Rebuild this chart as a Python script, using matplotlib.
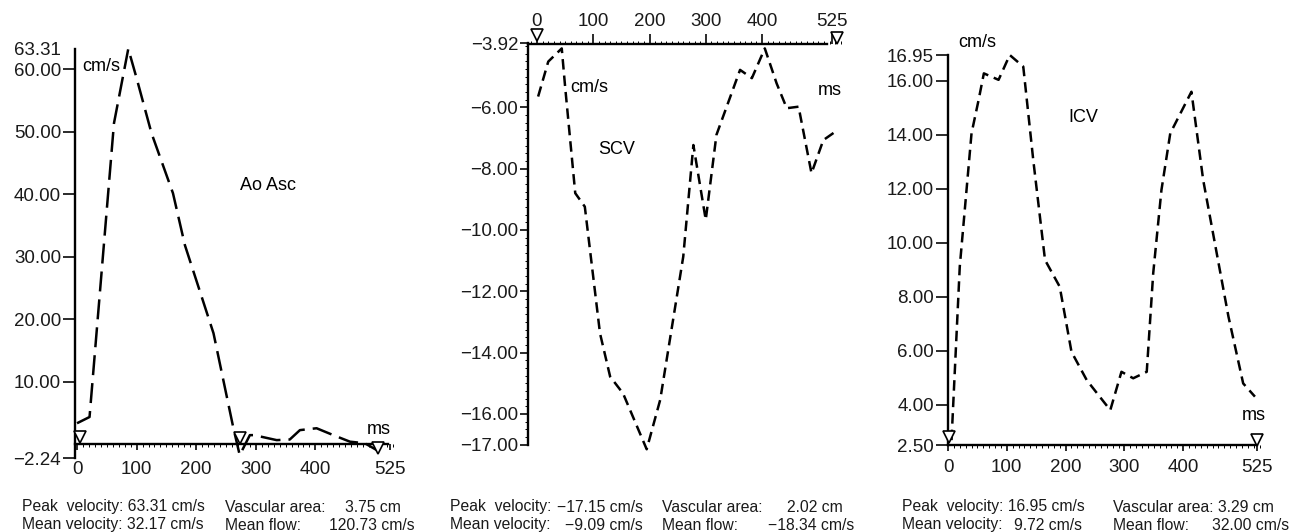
import matplotlib
matplotlib.use('Agg')
import matplotlib.pyplot as plt
from matplotlib.ticker import MultipleLocator

plt.rcParams['font.family'] = ['Liberation Sans', 'DejaVu Sans']

# traces (time in ms, velocity in cm/s)
ao_t = [0, 21, 62, 86, 100, 125, 161, 181, 229, 262, 273, 290, 297, 335, 357, 374, 402, 430, 458, 483, 503, 510]
ao_v = [3.4, 4.4, 51.4, 63.31, 58.6, 49.8, 40.2, 31.9, 17.8, 2.8, -1.7, 1.5, 1.5, 0.7, 0.8, 2.3, 2.6, 1.5, 0.45, 0.2, -0.9, 0.0]

scv_t = [2, 20, 44, 50, 68, 85, 112, 130, 153, 195, 219, 260, 278, 300, 319, 361, 382, 405, 426, 444, 465, 488, 509, 530]
scv_v = [-5.65, -4.51, -4.08, -5.33, -8.80, -9.24, -13.37, -14.78, -15.33, -17.15, -15.54, -10.87, -7.23, -9.67, -6.90,
         -4.78, -5.05, -4.08, -5.22, -6.03, -5.98, -8.15, -7.07, -6.80]

icv_t = [6, 20, 40, 52, 61, 86, 105, 128, 145, 165, 190, 210, 236, 276, 295, 315, 338, 349, 363, 378, 414, 434, 457, 477, 502, 522]
icv_v = [2.69, 9.11, 14.05, 15.28, 16.27, 16.03, 16.95, 16.52, 13.06, 9.36, 8.37, 5.96, 4.91, 3.80, 5.22, 4.98, 5.22,
         8.87, 11.95, 14.05, 15.59, 12.32, 9.61, 7.26, 4.79, 4.30]

# cursor triangles
ao_mark_t = [5, 273, 505]
ao_mark_v = [1.2, 1.0, -0.6]
scv_mark_t = [0, 533]
scv_mark_v = [-3.64, -3.74]
icv_mark_t = [2, 525]
icv_mark_v = [2.81, 2.69]

# axis ticks
x_ticks = [0, 100, 200, 300, 400, 525]
ao_yticks = [-2.24, 10, 20, 30, 40, 50, 60, 63.31]
scv_yticks = [-17, -16, -14, -12, -10, -8, -6, -3.92]
icv_yticks = [2.5, 4, 6, 8, 10, 12, 14, 16, 16.95]

names = ['Ao Asc', 'SCV', 'ICV']

W, H = 1298, 532
fig = plt.figure(figsize=(W / 100, H / 100), dpi=100)


def make_axes(px_left, px_right, py_top, py_bottom):
    return fig.add_axes([px_left / W, 1 - py_bottom / H,
                         (px_right - px_left) / W, (py_bottom - py_top) / H])


def fmt(v):
    return f'{v:.2f}'.replace('-', '\u2212')


def style(ax, yticks):
    ax.set_yticks(yticks)
    ax.set_yticklabels([fmt(v) for v in yticks])
    ax.set_xticks(x_ticks)
    ax.set_xticklabels([str(v) for v in x_ticks])
    ax.xaxis.set_minor_locator(MultipleLocator(10))
    ax.spines['right'].set_visible(False)
    for s in ax.spines.values():
        s.set_linewidth(1.7)
    ax.tick_params(axis='y', labelsize=13.5, length=9, width=1.3, pad=1, colors='#1a1a1a')
    ax.tick_params(axis='x', labelsize=13.5, length=4, width=1.3, colors='#1a1a1a')
    ax.tick_params(axis='x', which='minor', length=2, width=0.7)
    ax.patch.set_visible(False)


mk = dict(marker='v', ms=8, mfc='white', mec='black', mew=1.2, ls='none', clip_on=False, zorder=5)
lw = 1.8

# ---- Ao Asc
ax1 = make_axes(75, 77 + 535 * 0.596, 48.8, 458.5)
ax1.set_xlim(-3.4, 535)
ax1.set_ylim(-2.24, 63.31)
style(ax1, ao_yticks)
ax1.spines['top'].set_visible(False)
ax1.spines['bottom'].set_position(('data', 0))
ax1.spines['bottom'].set_bounds(-3.4, 522)
ax1.spines['left'].set_bounds(-2.24, 63.31)
ax1.yaxis.get_major_ticks()[-1].tick1line.set_visible(False)
ax1.tick_params(axis='x', pad=8)
ax1.plot(ao_t, ao_v, color='black', lw=lw, ls=(0, (8, 3.2)), clip_on=False)
ax1.plot(ao_mark_t, ao_mark_v, **mk)
ax1.text(8, 60.4, 'cm/s', fontsize=13, va='center')
ax1.text(273, 41.4, names[0], fontsize=13, va='center')
ax1.text(487, 2.4, 'ms', fontsize=13, va='center')

# ---- SCV
ax2 = make_axes(528, 537 + 540 * 0.5625, 43.5, 450.8)
ax2.set_xlim(-16, 540)
ax2.set_ylim(-17.2, -3.92)
style(ax2, scv_yticks)
ax2.spines['bottom'].set_visible(False)
ax2.spines['top'].set_bounds(-16, 516)
ax2.spines['left'].set_bounds(-17, -3.92)
ax2.xaxis.tick_top()
ax2.tick_params(axis='x', which='major', length=7, pad=3)
ax2.tick_params(axis='y', length=6)
ax2.yaxis.set_minor_locator(MultipleLocator(0.25))
ax2.tick_params(axis='y', which='minor', length=2, width=0.7)
ax2.plot(scv_t, scv_v, color='black', lw=lw, ls=(0, (4.2, 2.4)), clip_on=False)
ax2.plot(scv_mark_t, scv_mark_v, **mk)
ax2.text(59, -5.37, 'cm/s', fontsize=13, va='center')
ax2.text(108, -7.39, names[1], fontsize=13, va='center')
ax2.text(499, -5.44, 'ms', fontsize=13, va='center')

# ---- ICV
ax3 = make_axes(948, 948 + 535 * 0.588, 55, 446.6)
ax3.set_xlim(0, 535)
ax3.set_ylim(2.45, 16.95)
style(ax3, icv_yticks)
ax3.spines['top'].set_visible(False)
ax3.spines['bottom'].set_position(('data', 2.5))
ax3.spines['bottom'].set_bounds(0, 525)
ax3.spines['left'].set_bounds(2.5, 16.95)
ax3.tick_params(axis='x', pad=6)
ax3.plot(icv_t, icv_v, color='black', lw=lw, ls=(0, (4.2, 2.4)), clip_on=False)
ax3.plot(icv_mark_t, icv_mark_v, **mk)
ax3.text(17, 17.4, 'cm/s', fontsize=13, va='center')
ax3.text(204, 14.65, names[2], fontsize=13, va='center')
ax3.text(499, 3.62, 'ms', fontsize=13, va='center')

# ---- summary lines under each trace
summary_left = [
    ('Peak  velocity: 63.31 cm/s', 'Mean velocity: 32.17 cm/s'),
    ('Peak  velocity:', 'Mean velocity:'),
    ('Peak  velocity: 16.95 cm/s', 'Mean velocity:'),
]
summary_left_vals = [None, ('\u221217.15 cm/s', '\u22129.09 cm/s'), (None, '9.72 cm/s')]
summary_right = [
    ('Vascular area:', 'Mean flow:'),
    ('Vascular area:', 'Mean flow:'),
    ('Vascular area: 3.29 cm', 'Mean flow:'),
]
summary_right_vals = [('3.75 cm', '120.73 cm/s'), ('2.02 cm', '\u221218.34 cm/s'), (None, '32.00 cm/s')]

col1_x = [22, 450, 902]
col1_val_end = [None, 643, 1082]
col2_x = [225, 662, 1113]
col2_val_x = [(345, 329), (787, 768), (None, 1212)]
row_y = [507, 525]


def ftext(px, py, s, ha='left'):
    fig.text(px / W, 1 - py / H, s, fontsize=11.3, ha=ha, va='center', color='#1a1a1a')


for i in range(3):
    for r in range(2):
        ftext(col1_x[i], row_y[r], summary_left[i][r])
        if summary_left_vals[i] and summary_left_vals[i][r]:
            ftext(col1_val_end[i], row_y[r], summary_left_vals[i][r], ha='right')
        ftext(col2_x[i], row_y[r], summary_right[i][r])
        if summary_right_vals[i][r]:
            ftext(col2_val_x[i][r], row_y[r], summary_right_vals[i][r])

fig.savefig('out.png', dpi=100)
